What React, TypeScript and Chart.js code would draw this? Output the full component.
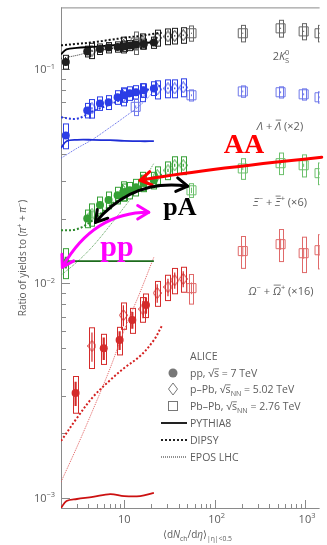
import React, { useEffect, useRef } from 'react';
import { Chart, registerables } from 'chart.js';

Chart.register(...registerables);

const WIDTH = 327;
const HEIGHT = 545;

// Multiplicity classes, <dNch/deta> at |eta| < 0.5
const ppMult = [2.26, 3.9, 5.4, 6.72, 8.45, 10.1, 11.5, 13.5, 16.5, 21.3];
const ppMultOmega = [2.9, 5.94, 8.9, 12.3, 17.4];
const pPbMult = [4.4, 9.8, 16.1, 23.2, 30.5, 36.2, 45];
const pbPbMult = [13.4, 55.5, 205, 537, 966, 1448];
const pbPbMultMulti = [55.5, 205, 537, 966, 1448];

// 2K0S / (pi+ + pi-)
const kPp = [0.108, 0.121, 0.124, 0.126, 0.127, 0.128, 0.129, 0.13, 0.131, 0.133];
const kPpStat = [0.002, 0.001, 0.001, 0.001, 0.001, 0.001, 0.001, 0.001, 0.001, 0.001];
const kPpSys = [0.008, 0.007, 0.007, 0.007, 0.007, 0.007, 0.007, 0.007, 0.007, 0.008];
const kPPb = [0.122, 0.13, 0.135, 0.14, 0.142, 0.143, 0.144];
const kPPbStat = [0.001, 0.001, 0.001, 0.001, 0.001, 0.001, 0.001];
const kPPbSys = [0.01, 0.011, 0.011, 0.012, 0.012, 0.012, 0.012];
const kPbPb = [0.133, 0.147, 0.147, 0.155, 0.15, 0.147];
const kPbPbStat = [0.002, 0.001, 0.001, 0.001, 0.001, 0.001];
const kPbPbSys = [0.016, 0.012, 0.013, 0.014, 0.013, 0.013];

// (Lambda + anti-Lambda) x2
const lamPp = [0.049, 0.0642, 0.0692, 0.07, 0.0739, 0.0755, 0.0771, 0.078, 0.0796, 0.0813];
const lamPpStat = [0.0012, 0.0008, 0.0008, 0.0008, 0.0008, 0.0008, 0.0008, 0.0008, 0.0008, 0.0008];
const lamPpSys = [0.0065, 0.005, 0.005, 0.0052, 0.0054, 0.0055, 0.0056, 0.0057, 0.0058, 0.006];
const lamPPb = [0.0656, 0.0746, 0.078, 0.0804, 0.0813, 0.0813, 0.0822];
const lamPPbStat = [0.0008, 0.0008, 0.0008, 0.0008, 0.0008, 0.0008, 0.0008];
const lamPPbSys = [0.0065, 0.0072, 0.0075, 0.0078, 0.0078, 0.0078, 0.0079];
const lamPbPb = [0.0667, 0.0755, 0.0787, 0.078, 0.0763, 0.0739];
const lamPbPbStat = [0.001, 0.0008, 0.0008, 0.0008, 0.0008, 0.0008];
const lamPbPbSys = [0.006, 0.0045, 0.0048, 0.0047, 0.0046, 0.0045];

// (Xi- + anti-Xi+) x6
const xiPp = [0.01253, 0.0201, 0.0232, 0.0245, 0.0258, 0.0267, 0.0272, 0.0281, 0.0294, 0.0303];
const xiPpStat = [0.0008, 0.0006, 0.0006, 0.0006, 0.0006, 0.0006, 0.0006, 0.0006, 0.0006, 0.0006];
const xiPpSys = [0.002, 0.0019, 0.0021, 0.0022, 0.0023, 0.0024, 0.0024, 0.0025, 0.0026, 0.0027];
const xiPPb = [0.021, 0.027, 0.03, 0.032, 0.0337, 0.0356, 0.0356];
const xiPPbStat = [0.0008, 0.0006, 0.0006, 0.0006, 0.0006, 0.0006, 0.0006];
const xiPPbSys = [0.0025, 0.0028, 0.003, 0.003, 0.0032, 0.0034, 0.0034];
const xiPbPb = [0.0272, 0.0344, 0.0364, 0.0356, 0.0327];
const xiPbPbStat = [0.0008, 0.0006, 0.0006, 0.0006, 0.0006];
const xiPbPbSys = [0.002, 0.0038, 0.0042, 0.0042, 0.0038];

// (Omega- + anti-Omega+) x16
const omPp = [0.00308, 0.00499, 0.00544, 0.00675, 0.00793];
const omPpStat = [0.0004, 0.0006, 0.00055, 0.0006, 0.0007];
const omPpSys = [0.0006, 0.0008, 0.0008, 0.0009, 0.001];
const omPPb = [0.00511, 0.00711, 0.00759, 0.00902, 0.00962, 0.01035, 0.0105];
const omPPbStat = [0.0008, 0.0008, 0.0007, 0.0009, 0.0009, 0.0009, 0.0009];
const omPPbSys = [0.0011, 0.001, 0.001, 0.0012, 0.0013, 0.0014, 0.0014];
const omPbPb = [0.00951, 0.01416, 0.01525, 0.01384, 0.01429];
const omPbPbStat = [0.0006, 0.0008, 0.0009, 0.0008, 0.0008];
const omPbPbSys = [0.0015, 0.0024, 0.0026, 0.0026, 0.0026];

// Model curves (pp)
const pythiaX = [2, 2.3, 3, 4.5, 7, 10, 15, 21.3];
const dipsyX = [2, 3, 4.5, 7, 10, 15, 21.3, 26];
const eposX = [2, 3, 4.5, 7, 10, 15, 21.3];

const kPythia = [0.1173, 0.1236, 0.1257, 0.127, 0.1291, 0.1305, 0.1319, 0.1334];
const lamPythia = [0.0428, 0.0461, 0.0468, 0.0468, 0.0466, 0.0463, 0.0461, 0.0461];
const xiPythia = [0.0121, 0.0126, 0.0127, 0.0127, 0.0127, 0.0127, 0.0127, 0.0127];
const omPythia = [0.000896, 0.000966, 0.000987, 0.001009, 0.001041, 0.001019, 0.001019, 0.001053];

const kDipsy = [0.1291, 0.1312, 0.1334, 0.137, 0.1399, 0.1429, 0.1461, 0.1477];
const lamDipsy = [0.0596, 0.0587, 0.0636, 0.0685, 0.0731, 0.0779, 0.0818, 0.084];
const xiDipsy = [0.01772, 0.01791, 0.01973, 0.02317, 0.02553, 0.02812, 0.03063, 0.03232];
const omDipsy = [0.00184, 0.002355, 0.00295, 0.00354, 0.004028, 0.004584, 0.00544, 0.006323];

const kEpos = [0.1123, 0.116, 0.1211, 0.1243, 0.1277, 0.1319, 0.1362];
const lamEpos = [0.03838, 0.04273, 0.04708, 0.05354, 0.05961, 0.06782, 0.07876];
const xiEpos = [0.01093, 0.01258, 0.01493, 0.0187, 0.02268, 0.02842, 0.03637];
const omEpos = [0.001185, 0.001725, 0.002566, 0.004028, 0.006056, 0.009109, 0.01327];

// Axis ranges and labels
const xMin = 2;
const xMax = 1450;
const yMin = 8.96e-4;
const yMax = 0.1941;
const yMajor = [0.1, 0.01, 0.001];
const yMajorExp = ['\u22121', '\u22122', '\u22123'];
const xMajor = [10, 100, 1000];
const xMajorExp = ['', '2', '3'];

// Curved annotation arrows in data coordinates: [start, control, end]
const aaArrow = [[14.96, 0.0303], [61.7, 0.0337], [1531, 0.0388]];
const paArrow = [[4.81, 0.01927], [12.28, 0.03097], [50.4, 0.02844]];
const ppArrow = [[2.07, 0.01191], [4.57, 0.02148], [18.7, 0.02148]];

const annotationText = [
  { text: 'AA', x: 126, y: 0.0405, color: '#ff0000', size: 28 },
  { text: 'pA', x: 27.1, y: 0.0208, color: '#000000', size: 26 },
  { text: 'pp', x: 5.43, y: 0.01341, color: '#ff00ff', size: 30 },
];

const SANS = '"Open Sans", "Noto Sans", "DejaVu Sans", sans-serif';
const SERIF = '"Liberation Serif", "DejaVu Serif", serif';
const AXIS_COLOR = '#8a8a8a';
const TEXT_COLOR = '#5c5c5c';

type Seg = { t?: string; it?: boolean; sup?: string; sub?: string; bar?: boolean; barH?: number };

function sansFont(size: number, italic = false) {
  return `${italic ? 'italic ' : ''}${size}px ${SANS}`;
}

function richWidth(ctx: CanvasRenderingContext2D, segs: Seg[], size: number) {
  let w = 0;
  for (const s of segs) {
    if (s.t) {
      ctx.font = sansFont(size, s.it);
      w += ctx.measureText(s.t).width;
    }
    ctx.font = sansFont(size * 0.68);
    const a = s.sup ? ctx.measureText(s.sup).width : 0;
    const b = s.sub ? ctx.measureText(s.sub).width : 0;
    w += Math.max(a, b);
  }
  return w;
}

function drawRich(
  ctx: CanvasRenderingContext2D,
  segs: Seg[],
  x: number,
  y: number,
  size: number,
  align: 'left' | 'center' | 'right',
  color: string
) {
  const total = richWidth(ctx, segs, size);
  let cx = align === 'left' ? x : align === 'center' ? x - total / 2 : x - total;
  ctx.fillStyle = color;
  ctx.strokeStyle = color;
  ctx.textAlign = 'left';
  ctx.textBaseline = 'alphabetic';
  for (const s of segs) {
    if (s.t) {
      ctx.font = sansFont(size, s.it);
      const w = ctx.measureText(s.t).width;
      ctx.fillText(s.t, cx, y);
      if (s.bar) {
        const by = y - size * (s.barH ?? 0.9);
        ctx.lineWidth = 0.8;
        ctx.beginPath();
        ctx.moveTo(cx + w * 0.1, by);
        ctx.lineTo(cx + w * 0.98, by);
        ctx.stroke();
      }
      cx += w;
    }
    ctx.font = sansFont(size * 0.68);
    let sw = 0;
    if (s.sup) {
      ctx.fillText(s.sup, cx, y - size * 0.42);
      sw = Math.max(sw, ctx.measureText(s.sup).width);
    }
    if (s.sub) {
      ctx.fillText(s.sub, cx, y + size * 0.25);
      sw = Math.max(sw, ctx.measureText(s.sub).width);
    }
    cx += sw;
  }
}

function diamondStyle(color: string, w = 9, h = 12) {
  const c = document.createElement('canvas');
  c.width = w;
  c.height = h;
  const g = c.getContext('2d')!;
  g.strokeStyle = color;
  g.lineWidth = 1;
  g.beginPath();
  g.moveTo(w / 2, 0.5);
  g.lineTo(w - 0.5, h / 2);
  g.lineTo(w / 2, h - 0.5);
  g.lineTo(0.5, h / 2);
  g.closePath();
  g.stroke();
  return c;
}

const speciesList = [
  {
    color: '#1e1e1e', light: '#666666', models: ['#000000', '#111111', '#333333'],
    pp: [ppMult, kPp, kPpStat, kPpSys], pPb: [pPbMult, kPPb, kPPbStat, kPPbSys], PbPb: [pbPbMult, kPbPb, kPbPbStat, kPbPbSys],
    pythia: kPythia, dipsy: kDipsy, epos: kEpos,
  },
  {
    color: '#2b3de6', light: '#6f78ea', models: ['#1f2ed6', '#2a3ae0', '#5560e8'],
    pp: [ppMult, lamPp, lamPpStat, lamPpSys], pPb: [pPbMult, lamPPb, lamPPbStat, lamPPbSys], PbPb: [pbPbMult, lamPbPb, lamPbPbStat, lamPbPbSys],
    pythia: lamPythia, dipsy: lamDipsy, epos: lamEpos,
  },
  {
    color: '#36a036', light: '#6cc06c', models: ['#1d6b1d', '#2d8a2d', '#5aa05a'],
    pp: [ppMult, xiPp, xiPpStat, xiPpSys], pPb: [pPbMult, xiPPb, xiPPbStat, xiPPbSys], PbPb: [pbPbMultMulti, xiPbPb, xiPbPbStat, xiPbPbSys],
    pythia: xiPythia, dipsy: xiDipsy, epos: xiEpos,
  },
  {
    color: '#d42b2b', light: '#e06a6a', models: ['#cc1111', '#d42020', '#e06060'],
    pp: [ppMultOmega, omPp, omPpStat, omPpSys], pPb: [pPbMult, omPPb, omPPbStat, omPPbSys], PbPb: [pbPbMultMulti, omPbPb, omPbPbStat, omPbPbSys],
    pythia: omPythia, dipsy: omDipsy, epos: omEpos,
  },
];

const speciesLabels: { segs: Seg[]; x: number; y: number }[] = [
  { segs: [{ t: '2' }, { t: 'K', it: true, sup: '0', sub: 'S' }], x: 281, y: 60 },
  { segs: [{ t: '\u039B', it: true }, { t: ' + ' }, { t: '\u039B', it: true, bar: true }, { t: ' (\u00D72)' }], x: 280, y: 130 },
  { segs: [{ t: '\u039E', it: true, sup: '\u2212' }, { t: ' + ' }, { t: '\u039E', it: true, bar: true, sup: '+' }, { t: ' (\u00D76)' }], x: 280, y: 206 },
  { segs: [{ t: '\u03A9', it: true, sup: '\u2212' }, { t: ' + ' }, { t: '\u03A9', it: true, bar: true, sup: '+' }, { t: ' (\u00D716)' }], x: 281, y: 295 },
];

const framePlugin = {
  id: 'frame',
  beforeDatasetsDraw(chart: any) {
    const { ctx, chartArea: a } = chart;
    const xs = chart.scales.x;
    const ys = chart.scales.y;
    ctx.save();
    ctx.strokeStyle = AXIS_COLOR;
    ctx.lineWidth = 1;
    ctx.beginPath();
    ctx.moveTo(a.left, a.top + 0.5);
    ctx.lineTo(a.right, a.top + 0.5);
    ctx.moveTo(a.left + 0.5, a.top);
    ctx.lineTo(a.left + 0.5, a.bottom + 0.5);
    ctx.lineTo(a.right, a.bottom + 0.5);
    for (let d = -4; d <= 0; d++) {
      for (let m = 1; m <= 9; m++) {
        const v = m * Math.pow(10, d);
        if (v < yMin || v > yMax) continue;
        const py = Math.round(ys.getPixelForValue(v)) + 0.5;
        const len = m === 1 ? 9 : 5;
        ctx.moveTo(a.left, py);
        ctx.lineTo(a.left + len, py);
      }
    }
    for (let d = 0; d <= 3; d++) {
      for (let m = 1; m <= 9; m++) {
        const v = m * Math.pow(10, d);
        if (v <= xMin || v > xMax) continue;
        const px = Math.round(xs.getPixelForValue(v)) + 0.5;
        const len = m === 1 ? 8 : 4;
        ctx.moveTo(px, a.bottom);
        ctx.lineTo(px, a.bottom - len);
      }
    }
    ctx.stroke();

    yMajor.forEach((v, i) => {
      const py = ys.getPixelForValue(v);
      drawRich(ctx, [{ t: '10', sup: yMajorExp[i] }], a.left - 6, py + 4, 11, 'right', TEXT_COLOR);
    });
    xMajor.forEach((v, i) => {
      const px = xs.getPixelForValue(v);
      const segs: Seg[] = xMajorExp[i] ? [{ t: '10', sup: xMajorExp[i] }] : [{ t: '10' }];
      drawRich(ctx, segs, px + (xMajorExp[i] ? 2 : 0), a.bottom + 15, 11, 'center', TEXT_COLOR);
    });

    // axis titles
    drawRich(
      ctx,
      [{ t: '\u27E8d' }, { t: 'N', it: true, sub: 'ch' }, { t: '/d' }, { t: '\u03B7', it: true }, { t: '\u27E9', sub: '|\u03B7|<0.5' }],
      163, 538, 10, 'left', TEXT_COLOR
    );
    ctx.save();
    ctx.translate(26, 258);
    ctx.rotate(-Math.PI / 2);
    drawRich(
      ctx,
      [{ t: 'Ratio of yields to (' }, { t: '\u03C0', it: true, sup: '+' }, { t: ' + ' }, { t: '\u03C0', it: true, sup: '\u2212' }, { t: ')' }],
      0, 0, 10, 'center', TEXT_COLOR
    );
    ctx.restore();
    ctx.restore();
  },
};

const uncertaintyPlugin = {
  id: 'uncertainties',
  beforeDatasetsDraw(chart: any) {
    const { ctx, chartArea: a } = chart;
    const ys = chart.scales.y;
    ctx.save();
    ctx.beginPath();
    ctx.rect(a.left, a.top, a.right - a.left, a.bottom - a.top);
    ctx.clip();
    chart.data.datasets.forEach((ds: any, di: number) => {
      if (!ds.sys) return;
      const meta = chart.getDatasetMeta(di);
      meta.data.forEach((pt: any, i: number) => {
        const v = ds.data[i].y;
        const px = pt.x;
        const top = ys.getPixelForValue(v + ds.sys[i]);
        const bot = ys.getPixelForValue(v - ds.sys[i]);
        ctx.strokeStyle = ds.boxColor;
        ctx.lineWidth = 1;
        ctx.strokeRect(Math.round(px - ds.boxW / 2) + 0.5, top, ds.boxW, bot - top);
        ctx.lineWidth = ds.statW;
        ctx.beginPath();
        ctx.moveTo(px, ys.getPixelForValue(v + ds.stat[i]));
        ctx.lineTo(px, ys.getPixelForValue(v - ds.stat[i]));
        ctx.stroke();
      });
    });
    ctx.restore();
  },
};

function arrowHead(ctx: CanvasRenderingContext2D, tx: number, ty: number, dx: number, dy: number) {
  const ang = Math.atan2(dy, dx);
  const len = 13;
  const half = 0.55;
  ctx.beginPath();
  ctx.moveTo(tx - len * Math.cos(ang - half), ty - len * Math.sin(ang - half));
  ctx.lineTo(tx, ty);
  ctx.lineTo(tx - len * Math.cos(ang + half), ty - len * Math.sin(ang + half));
  ctx.stroke();
}

const annotationPlugin = {
  id: 'annotations',
  afterDraw(chart: any) {
    const { ctx, chartArea: a } = chart;
    const xs = chart.scales.x;
    const ys = chart.scales.y;
    ctx.save();

    // species labels
    speciesLabels.forEach((l) => drawRich(ctx, l.segs, l.x, l.y, 11, 'center', TEXT_COLOR));

    // legend
    const lx = 190;
    const mx = 173;
    const rows = [356, 373, 389, 406, 423, 440, 457];
    ctx.font = sansFont(10.5);
    drawRich(ctx, [{ t: 'ALICE' }], lx, rows[0] + 4, 10.5, 'left', TEXT_COLOR);
    drawRich(ctx, [{ t: 'pp, \u221A' }, { t: 's', bar: true, barH: 0.78 }, { t: ' = 7 TeV' }], lx, rows[1] + 4, 10.5, 'left', TEXT_COLOR);
    drawRich(ctx, [{ t: 'p\u2013Pb, \u221A' }, { t: 's', bar: true, barH: 0.78, sub: 'NN' }, { t: ' = 5.02 TeV' }], lx, rows[2] + 4, 10.5, 'left', TEXT_COLOR);
    drawRich(ctx, [{ t: 'Pb\u2013Pb, \u221A' }, { t: 's', bar: true, barH: 0.78, sub: 'NN' }, { t: ' = 2.76 TeV' }], lx, rows[3] + 4, 10.5, 'left', TEXT_COLOR);
    drawRich(ctx, [{ t: 'PYTHIA8' }], lx, rows[4] + 4, 10.5, 'left', TEXT_COLOR);
    drawRich(ctx, [{ t: 'DIPSY' }], lx, rows[5] + 4, 10.5, 'left', TEXT_COLOR);
    drawRich(ctx, [{ t: 'EPOS LHC' }], lx, rows[6] + 4, 10.5, 'left', TEXT_COLOR);

    const mk = '#777777';
    ctx.fillStyle = mk;
    ctx.beginPath();
    ctx.arc(mx, rows[1], 4.5, 0, Math.PI * 2);
    ctx.fill();
    ctx.strokeStyle = mk;
    ctx.lineWidth = 1;
    ctx.beginPath();
    ctx.moveTo(mx, rows[2] - 6);
    ctx.lineTo(mx + 4.5, rows[2]);
    ctx.lineTo(mx, rows[2] + 6);
    ctx.lineTo(mx - 4.5, rows[2]);
    ctx.closePath();
    ctx.stroke();
    ctx.strokeRect(mx - 4.5, rows[3] - 4.5, 9, 9);

    ctx.strokeStyle = '#222222';
    const lines: [number, number[], number][] = [
      [rows[4], [], 2],
      [rows[5], [2, 2], 2],
      [rows[6], [1, 1], 1],
    ];
    lines.forEach(([ly, dash, w]) => {
      ctx.setLineDash(dash);
      ctx.lineWidth = w;
      ctx.beginPath();
      ctx.moveTo(161, ly);
      ctx.lineTo(187, ly);
      ctx.stroke();
    });
    ctx.setLineDash([]);

    // curved arrows
    const arrows: [number[][], string, boolean, boolean][] = [
      [aaArrow, '#ff0000', true, false],
      [paArrow, '#000000', true, true],
      [ppArrow, '#ff00ff', true, true],
    ];
    ctx.lineWidth = 3;
    ctx.lineCap = 'round';
    ctx.lineJoin = 'round';
    arrows.forEach(([pts, color, head0, head1]) => {
      const p = pts.map(([vx, vy]) => [xs.getPixelForValue(vx), ys.getPixelForValue(vy)]);
      ctx.strokeStyle = color;
      ctx.beginPath();
      ctx.moveTo(p[0][0], p[0][1]);
      ctx.quadraticCurveTo(p[1][0], p[1][1], p[2][0], p[2][1]);
      ctx.stroke();
      if (head0) arrowHead(ctx, p[0][0], p[0][1], p[0][0] - p[1][0], p[0][1] - p[1][1]);
      if (head1) arrowHead(ctx, p[2][0], p[2][1], p[2][0] - p[1][0], p[2][1] - p[1][1]);
    });

    annotationText.forEach((t) => {
      ctx.font = `bold ${t.size}px ${SERIF}`;
      ctx.fillStyle = t.color;
      ctx.textAlign = 'left';
      ctx.textBaseline = 'alphabetic';
      ctx.fillText(t.text, xs.getPixelForValue(t.x), ys.getPixelForValue(t.y));
    });
    ctx.restore();
  },
};

export default function App() {
  const ref = useRef<HTMLCanvasElement>(null);

  useEffect(() => {
    const canvas = ref.current;
    if (!canvas) return;
    const datasets: any[] = [];

    speciesList.forEach((s) => {
      const models: [number[], number[], number[], number, string][] = [
        [pythiaX, s.pythia, [], 1.8, s.models[0]],
        [dipsyX, s.dipsy, [2, 2], 2, s.models[1]],
        [eposX, s.epos, [1, 1], 1, s.models[2]],
      ];
      models.forEach(([xv, yv, dash, w, c]) => {
        datasets.push({
          data: xv.map((x, i) => ({ x, y: yv[i] })),
          showLine: true,
          borderColor: c,
          borderWidth: w,
          borderDash: dash,
          pointRadius: 0,
          tension: 0.35,
          fill: false,
          order: 3,
        });
      });

      const systems: [any[], string, any, number, string, number, number, number][] = [
        [s.pp, 'pp', 'circle', 4, s.color, 5, 2.2, 0],
        [s.pPb, 'pPb', diamondStyle(s.color), 5, s.color, 5, 1.2, 1],
        [s.PbPb, 'PbPb', 'rect', 6.4, s.light, 4, 1, 1],
      ];
      systems.forEach(([[mult, val, stat, sys], , style, r, c, boxW, statW, bw]) => {
        const filled = style === 'circle';
        datasets.push({
          data: mult.map((x: number, i: number) => ({ x, y: val[i] })),
          showLine: false,
          pointStyle: style,
          pointRadius: r,
          pointBackgroundColor: filled ? c : 'rgba(0,0,0,0)',
          pointBorderColor: c,
          pointBorderWidth: bw,
          backgroundColor: filled ? c : 'rgba(0,0,0,0)',
          borderColor: c,
          stat,
          sys,
          boxColor: c,
          boxW,
          statW,
          order: 1,
        });
      });
    });

    const chart = new Chart(canvas, {
      type: 'scatter',
      data: { datasets },
      options: {
        responsive: false,
        animation: false,
        devicePixelRatio: 1,
        layout: { padding: { left: 61, top: 7, right: 0, bottom: 37 } },
        scales: {
          x: { type: 'logarithmic', min: xMin, max: xMax, display: false },
          y: { type: 'logarithmic', min: yMin, max: yMax, display: false },
        },
        plugins: { legend: { display: false }, tooltip: { enabled: false } },
        events: [],
      },
      plugins: [framePlugin, uncertaintyPlugin, annotationPlugin],
    } as any);

    return () => chart.destroy();
  }, []);

  return (
    <div style={{ position: 'absolute', left: 0, top: 0, width: WIDTH, height: HEIGHT, background: '#fff' }}>
      <canvas ref={ref} width={WIDTH} height={HEIGHT} style={{ display: 'block', width: WIDTH, height: HEIGHT }} />
    </div>
  );
}
